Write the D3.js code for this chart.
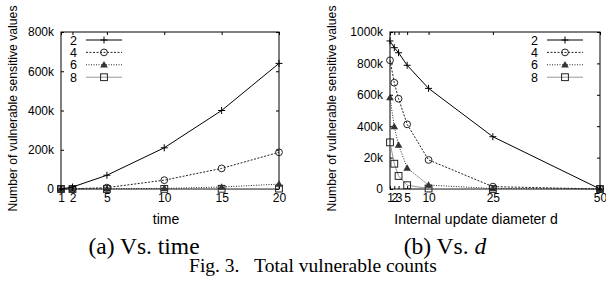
<!DOCTYPE html>
<html>
<head>
<meta charset="utf-8">
<script src="https://cdn.jsdelivr.net/npm/d3@7.9.0/dist/d3.min.js"></script>
<style>
  html, body { margin: 0; padding: 0; background: #fff; }
  svg { display: block; }
  .tick text { font-family: "Liberation Sans", Arial, sans-serif; font-size: 12px; fill: #000; }
  .lbl { font-family: "Liberation Sans", Arial, sans-serif; font-size: 14px; fill: #000; }
  .cap { font-family: "Liberation Serif", "Times New Roman", serif; fill: #000; }
</style>
</head>
<body>
<svg id="chart" width="606" height="288"></svg>
<script>
// ── Data ───────────────────────────────────────────────────────────────────
const seriesNames = ['2', '4', '6', '8'];

// (a) vs. time
const timeValues = [1, 2, 5, 10, 15, 20];
const timeSeries2 = [0, 10000, 70000, 210000, 400000, 640000];
const timeSeries4 = [0, 1000, 7000, 45000, 105000, 187000];
const timeSeries6 = [0, 0, 1000, 3000, 10000, 25000];
const timeSeries8 = [0, 0, 0, 500, 1000, 2000];
const timeYTicks = [0, 200000, 400000, 600000, 800000];
const timeYLabels = ['0', '200k', '400k', '600k', '800k'];

// (b) vs. d
const dValues = [1, 2, 3, 5, 10, 25, 50];
const dSeries2 = [943000, 900000, 868000, 788000, 641000, 333000, 0];
const dSeries4 = [820000, 677000, 575000, 412000, 185000, 15000, 0];
const dSeries6 = [582000, 397000, 280000, 134000, 25000, 3000, 0];
const dSeries8 = [297000, 161000, 83000, 24000, 3000, 0, 0];
const dYTicks = [0, 200000, 400000, 600000, 800000, 1000000];
const dYLabels = ['0', '20k', '400k', '600k', '800k', '1000k']; // "20k" as printed

// ── Styles per series (line + point type) ──────────────────────────────────
const styles = [
  { stroke: '#000', dash: null, marker: 'plus' },
  { stroke: '#222', dash: '2,1.5', marker: 'circle' },
  { stroke: '#222', dash: '1,1.5', marker: 'triangle' },
  { stroke: '#999', dash: null, marker: 'square' },
];

const svg = d3.select('#chart');

function drawMarker(g, type, x, y) {
  if (type === 'plus') {
    g.append('path').attr('d', `M${x - 3.5},${y}H${x + 3.5}M${x},${y - 3.5}V${y + 3.5}`)
      .attr('stroke', '#000').attr('stroke-width', 1);
  } else if (type === 'circle') {
    g.append('circle').attr('cx', x).attr('cy', y).attr('r', 3.4)
      .attr('fill', 'none').attr('stroke', '#222').attr('stroke-width', 1);
  } else if (type === 'triangle') {
    g.append('path').attr('d', `M${x},${y - 3.8}L${x + 3.8},${y + 2.7}L${x - 3.8},${y + 2.7}Z`)
      .attr('fill', '#333');
  } else {
    g.append('rect').attr('x', x - 3.4).attr('y', y - 3.4).attr('width', 6.8).attr('height', 6.8)
      .attr('fill', 'none').attr('stroke', '#222').attr('stroke-width', 1);
  }
}

function drawPanel(cfg) {
  const x = d3.scaleLinear().domain(cfg.xDomain).range([cfg.left, cfg.right]);
  const y = d3.scaleLinear().domain(cfg.yDomain).range([cfg.bottom, cfg.top]);
  const g = svg.append('g');

  // axes, gnuplot-style inward ticks mirrored on all sides
  const xAxis = g.append('g').attr('transform', `translate(0,${cfg.bottom})`)
    .call(d3.axisBottom(x).tickValues(cfg.xValues).tickFormat(d3.format('d'))
      .tickSizeInner(-3).tickSizeOuter(0).tickPadding(6));
  g.append('g').attr('transform', `translate(0,${cfg.top})`)
    .call(d3.axisTop(x).tickValues(cfg.xValues).tickFormat('').tickSizeInner(-3).tickSizeOuter(0));
  g.append('g').attr('transform', `translate(${cfg.left},0)`)
    .call(d3.axisLeft(y).tickValues(cfg.yTicks).tickFormat((d, i) => cfg.yLabels[i])
      .tickSizeInner(-3).tickSizeOuter(0).tickPadding(7));
  g.append('g').attr('transform', `translate(${cfg.right},0)`)
    .call(d3.axisRight(y).tickValues(cfg.yTicks).tickFormat('').tickSizeInner(-3).tickSizeOuter(0));
  g.selectAll('.domain').remove();
  g.selectAll('.tick line').attr('stroke', '#000');
  xAxis.selectAll('.tick text').attr('dy', '0.55em');

  g.append('rect').attr('x', cfg.left).attr('y', cfg.top)
    .attr('width', cfg.right - cfg.left).attr('height', cfg.bottom - cfg.top)
    .attr('fill', 'none').attr('stroke', '#000').attr('stroke-width', 1);

  // series, drawn 8 → 2 so the solid black line ends on top
  const line = d3.line().x((d) => x(d[0])).y((d) => y(d[1]));
  for (let s = cfg.series.length - 1; s >= 0; s--) {
    const pts = cfg.xValues.map((v, i) => [v, cfg.series[s][i]]);
    const st = styles[s];
    g.append('path').attr('d', line(pts)).attr('fill', 'none')
      .attr('stroke', st.stroke).attr('stroke-width', 1)
      .attr('stroke-dasharray', st.dash);
    pts.forEach((p) => drawMarker(g, st.marker, x(p[0]), y(p[1])));
  }

  // legend
  seriesNames.forEach((name, i) => {
    const ly = cfg.legY + i * 12.4;
    const st = styles[i];
    g.append('text').attr('class', 'lbl').attr('x', cfg.legX).attr('y', ly)
      .attr('dy', '0.36em').attr('text-anchor', 'end').style('font-size', '12.5px').text(name);
    g.append('line').attr('x1', cfg.legX + 9).attr('x2', cfg.legX + 45)
      .attr('y1', ly).attr('y2', ly).attr('stroke', st.stroke).attr('stroke-width', 1)
      .attr('stroke-dasharray', st.dash);
    drawMarker(g, st.marker, cfg.legX + 27, ly);
  });

  // axis titles
  g.append('text').attr('class', 'lbl')
    .attr('transform', `translate(${cfg.yTitleX},${(cfg.top + cfg.bottom) / 2 - 2}) rotate(-90)`)
    .attr('text-anchor', 'middle').attr('dy', '0.35em').style('font-size', '12.2px')
    .text('Number of vulnerable sensitive values');
  g.append('text').attr('class', 'lbl').attr('x', cfg.xTitleX).attr('y', cfg.bottom + 30)
    .attr('dy', '0.35em').attr('text-anchor', 'middle').text(cfg.xTitle);
}

drawPanel({
  left: 61, right: 279, top: 32, bottom: 189,
  xDomain: [1, 20], yDomain: [0, 800000],
  xValues: timeValues, yTicks: timeYTicks, yLabels: timeYLabels,
  series: [timeSeries2, timeSeries4, timeSeries6, timeSeries8],
  legX: 77, legY: 40, yTitleX: 13, xTitleX: 166, xTitle: 'time',
});

drawPanel({
  left: 390, right: 600, top: 32, bottom: 189,
  xDomain: [1, 50], yDomain: [0, 1000000],
  xValues: dValues, yTicks: dYTicks, yLabels: dYLabels,
  series: [dSeries2, dSeries4, dSeries6, dSeries8],
  legX: 538, legY: 40, yTitleX: 332, xTitleX: 476, xTitle: 'Internal update diameter d',
});

// captions
const cap = svg.append('g').attr('class', 'cap');
cap.append('text').attr('x', 144).attr('y', 254).attr('text-anchor', 'middle')
  .style('font-size', '23.5px').text('(a) Vs. time');
const capB = cap.append('text').attr('x', 445).attr('y', 254).attr('text-anchor', 'middle')
  .style('font-size', '23.5px');
capB.append('tspan').text('(b) Vs. ');
capB.append('tspan').style('font-style', 'italic').text('d');
cap.append('text').attr('x', 313).attr('y', 272).attr('text-anchor', 'middle')
  .style('font-size', '19.5px').text('Fig. 3.\u00a0\u00a0\u00a0Total vulnerable counts');
</script>
</body>
</html>
